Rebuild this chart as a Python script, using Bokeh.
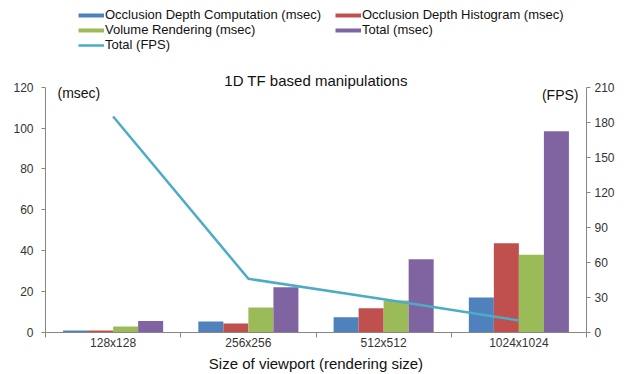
from bokeh.plotting import figure
from bokeh.models import (Range1d, LinearAxis, FixedTicker, Legend, LegendItem,
                          Label, ColumnDataSource)
from bokeh.transform import dodge
from bokeh.embed import file_html
from bokeh.resources import INLINE

# ---- data ----
categories = ["128x128", "256x256", "512x512", "1024x1024"]
occlusion_depth_comp = [1.0, 5.4, 7.5, 17.1]
occlusion_depth_hist = [1.0, 4.4, 11.9, 43.7]
volume_rendering = [2.9, 12.2, 15.6, 38.0]
total_msec = [5.6, 22.2, 35.9, 98.5]
total_fps = [185.0, 46.0, 28.5, 10.3]
msec_ticks = [0, 20, 40, 60, 80, 100, 120]
fps_ticks = [0, 30, 60, 90, 120, 150, 180, 210]

series_names = ["Occlusion Depth Computation (msec)", "Occlusion Depth Histogram (msec)",
                "Volume Rendering (msec)", "Total (msec)"]
series_vals = [occlusion_depth_comp, occlusion_depth_hist, volume_rendering, total_msec]
colors = ["#4F81BD", "#C0504D", "#9BBB59", "#8064A2"]
line_color = "#4BACC6"
FONT = "Liberation Sans"
AX = "#868686"
TXT = "#333333"

# layout (pixels)
W, H = 627, 374
FL, FR, FB = 45, 586, 333          # frame left/right/bottom
AXIS_TOP = 87                       # where the top tick (120 / 210) sits
msec_max, fps_max = msec_ticks[-1], fps_ticks[-1]
scale = FB / (FB - AXIS_TOP)        # frame spans the whole height above the axis
y_top = msec_max * scale
fps_top = fps_max * scale

xc = [i + 0.5 for i in range(len(categories))]
src = ColumnDataSource(dict(x=xc, fps=total_fps,
                            **{f"s{k}": v for k, v in enumerate(series_vals)}))

p = figure(width=W, height=H, output_backend="svg", toolbar_location=None,
           x_range=Range1d(0, len(categories)), y_range=Range1d(0, y_top),
           min_border_left=FL, min_border_right=W - FR, min_border_top=0,
           min_border_bottom=H - FB, outline_line_color=None)
p.extra_y_ranges = {"fps": Range1d(0, fps_top)}
p.grid.visible = False

bw = 0.185
for k in range(4):
    p.vbar(x=dodge("x", (k - 1.5) * bw, range=p.x_range), top=f"s{k}", width=bw,
           source=src, fill_color=colors[k], line_color=None)

fps_r = p.line(x="x", y="fps", source=src, y_range_name="fps",
               line_color=line_color, line_width=2.5)

# legend-only swatches (thin bars like the original); NaN data draws nothing
nan = float("nan")
proxies = [p.line(x=[nan], y=[nan], line_color=c, line_width=4) for c in colors]

# x axis: labels at centres, ticks at category boundaries
xa = p.xaxis[0]
xa.ticker = FixedTicker(ticks=xc, minor_ticks=list(range(len(categories) + 1)))
xa.major_label_overrides = {x: c for x, c in zip(xc, categories)}
xa.major_tick_line_color = None
xa.major_tick_out = 0
xa.minor_tick_out = 5
xa.minor_tick_in = 0
xa.minor_tick_line_color = AX
xa.axis_line_color = AX
xa.major_label_standoff = -2
xa.major_label_text_font = FONT
xa.major_label_text_font_size = "12px"
xa.major_label_text_color = TXT
xa.axis_label = "Size of viewport (rendering size)"
xa.axis_label_text_font = FONT
xa.axis_label_text_font_style = "normal"
xa.axis_label_text_font_size = "15px"
xa.axis_label_text_color = "#111111"
xa.axis_label_standoff = 2

ya = p.yaxis[0]
ya.ticker = FixedTicker(ticks=msec_ticks, minor_ticks=[])
ya.bounds = (0, msec_max)
ra = LinearAxis(y_range_name="fps", ticker=FixedTicker(ticks=fps_ticks, minor_ticks=[]),
                bounds=(0, fps_max))
p.add_layout(ra, "right")
for a in (ya, ra):
    a.axis_line_color = AX
    a.major_tick_line_color = AX
    a.major_tick_out = 4
    a.major_tick_in = 0
    a.minor_tick_line_color = None
    a.major_label_standoff = 4
    a.major_label_text_font = FONT
    a.major_label_text_font_size = "12px"
    a.major_label_text_color = TXT
ya.major_label_standoff = 8

def ydat(py):
    return (FB - py) / (FB - AXIS_TOP) * msec_max

def xdat(px):
    return (px - FL) / (FR - FL) * len(categories)

# texts
p.add_layout(Label(x=len(categories) / 2, y=ydat(80), text="1D TF based manipulations",
                   text_font=FONT, text_font_size="15px", text_align="center",
                   text_baseline="middle", text_color="#111111"))
p.add_layout(Label(x=xdat(57), y=ydat(93), text="(msec)", text_font=FONT,
                   text_font_size="14px", text_align="left", text_baseline="middle",
                   text_color="#111111"))
p.add_layout(Label(x=xdat(578), y=ydat(95), text="(FPS)", text_font=FONT,
                   text_font_size="14px", text_align="right", text_baseline="middle",
                   text_color="#111111"))

items = [LegendItem(label=series_names[0], renderers=[proxies[0]]),
         LegendItem(label=series_names[2], renderers=[proxies[2]]),
         LegendItem(label="Total (FPS)", renderers=[fps_r]),
         LegendItem(label=series_names[1], renderers=[proxies[1]]),
         LegendItem(label=series_names[3], renderers=[proxies[3]])]
legend = Legend(items=items, location=(78 - FL, FB - 53), ncols=2, padding=0, margin=0,
                spacing=0, glyph_width=26, glyph_height=14, label_height=14,
                label_width=230, label_standoff=1, label_text_font=FONT,
                label_text_font_size="13px", label_text_color="#111111",
                border_line_color=None, background_fill_alpha=0)
p.add_layout(legend, "center")

open("out.html", "w").write(file_html(p, INLINE))
